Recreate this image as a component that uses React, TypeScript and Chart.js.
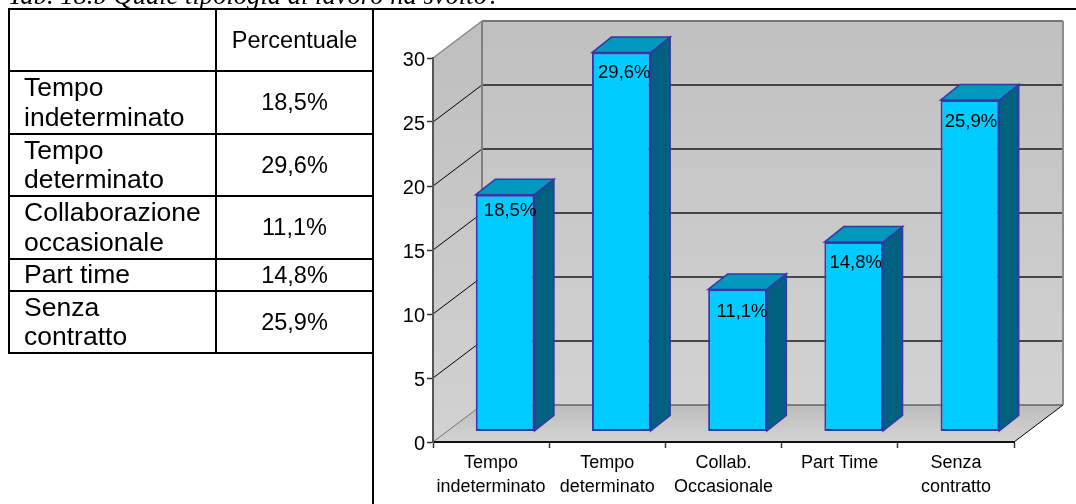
import React, { useEffect, useRef } from "react";
import { Chart, registerables } from "chart.js";

Chart.register(...registerables);

const caption = "Tab. 18.b Quale tipologia di lavoro ha svolto?";
const categories = [
  ["Tempo", "indeterminato"],
  ["Tempo", "determinato"],
  ["Collab.", "Occasionale"],
  ["Part Time"],
  ["Senza", "contratto"],
];
const values = [18.5, 29.6, 11.1, 14.8, 25.9];
const tableHeader = "Percentuale";
const tableLabels = [
  ["Tempo", "indeterminato"],
  ["Tempo", "determinato"],
  ["Collaborazione", "occasionale"],
  ["Part time"],
  ["Senza", "contratto"],
];
const tableValues = ["18,5%", "29,6%", "11,1%", "14,8%", "25,9%"];

const SANS = "'Liberation Sans', Arial, sans-serif";
const WALL_DX = 49;
const WALL_DY = -37;
const BAR_SHIFT_X = 14;
const BAR_SHIFT_Y = -10.5;
const BAR_DX = 19.5;
const BAR_DY = -15.5;
const LABEL_NUDGE_X = [5, 3, 4.5, 2, 1];
const LABEL_NUDGE_Y = [16, 20, 22, 21, 22];

function poly(ctx: CanvasRenderingContext2D, pts: number[][], fill: any, stroke?: string, lw = 1) {
  ctx.beginPath();
  pts.forEach((p, i) => (i ? ctx.lineTo(p[0], p[1]) : ctx.moveTo(p[0], p[1])));
  ctx.closePath();
  if (fill) {
    ctx.fillStyle = fill;
    ctx.fill();
  }
  if (stroke) {
    ctx.strokeStyle = stroke;
    ctx.lineWidth = lw;
    ctx.stroke();
  }
}

function line(ctx: CanvasRenderingContext2D, x1: number, y1: number, x2: number, y2: number, color: string, lw: number) {
  ctx.beginPath();
  ctx.moveTo(x1, y1);
  ctx.lineTo(x2, y2);
  ctx.strokeStyle = color;
  ctx.lineWidth = lw;
  ctx.stroke();
}

const box3d = {
  id: "box3d",
  beforeDraw(chart: any) {
    const { ctx, chartArea: a, scales } = chart;
    const { left: l, right: r, top: t, bottom: b } = a;
    const dx = WALL_DX;
    const dy = WALL_DY;
    ctx.save();
    const wall = ctx.createLinearGradient(0, t + dy, 0, b + dy);
    wall.addColorStop(0, "#c0c0c0");
    wall.addColorStop(1, "#d2d2d2");
    poly(ctx, [[l + dx, t + dy], [r + dx, t + dy], [r + dx, b + dy], [l + dx, b + dy]], wall);
    const side = ctx.createLinearGradient(0, t, 0, b);
    side.addColorStop(0, "#c0c0c0");
    side.addColorStop(1, "#d2d2d2");
    poly(ctx, [[l, t], [l + dx, t + dy], [l + dx, b + dy], [l, b]], side);
    const floor = ctx.createLinearGradient(0, b + dy, 0, b);
    floor.addColorStop(0, "#bcbcbc");
    floor.addColorStop(1, "#d4d4d4");
    poly(ctx, [[l, b], [l + dx, b + dy], [r + dx, b + dy], [r, b]], floor);
    scales.y.ticks.forEach((tk: any) => {
      const y = scales.y.getPixelForValue(tk.value);
      const grey = tk.value === 0 || tk.value === 30;
      if (!grey) {
        line(ctx, l, y, l + dx, y + dy, "#000000", 1);
        line(ctx, l + dx, y + dy, r + dx, y + dy, "#1a1a1a", 1.5);
      }
    });
    line(ctx, l, b, l + dx, b + dy, "#707070", 1);
    line(ctx, l + dx, b + dy, r + dx, b + dy, "#666666", 1.5);
    line(ctx, l, t, l + dx, t + dy, "#808080", 1.2);
    line(ctx, l + dx, t + dy, r + dx, t + dy, "#777777", 2);
    line(ctx, l + dx, t + dy, l + dx, b + dy, "#808080", 2);
    line(ctx, r + dx, t + dy, r + dx, b + dy, "#8c8c8c", 2);
    line(ctx, r, b, r + dx, b + dy, "#000000", 1);
    ctx.restore();
  },
  beforeDatasetDraw(chart: any, args: any) {
    const { ctx } = chart;
    ctx.save();
    ctx.translate(BAR_SHIFT_X, BAR_SHIFT_Y);
    const border = "#3a35a8";
    args.meta.data.forEach((el: any) => {
      const p = el.getProps(["x", "y", "base", "width"], true);
      const x0 = p.x - p.width / 2;
      const x1 = p.x + p.width / 2;
      poly(ctx, [[x1, p.y], [x1 + BAR_DX, p.y + BAR_DY], [x1 + BAR_DX, p.base + BAR_DY], [x1, p.base]], "#006080", border, 1.5);
      poly(ctx, [[x0, p.y], [x0 + BAR_DX, p.y + BAR_DY], [x1 + BAR_DX, p.y + BAR_DY], [x1, p.y]], "#0098bd", border, 1.5);
    });
  },
  afterDatasetDraw(chart: any) {
    chart.ctx.restore();
  },
  afterDatasetsDraw(chart: any) {
    const { ctx } = chart;
    const meta = chart.getDatasetMeta(0);
    ctx.save();
    ctx.font = `18.5px ${SANS}`;
    ctx.fillStyle = "#000";
    ctx.textAlign = "center";
    ctx.textBaseline = "middle";
    meta.data.forEach((el: any, i: number) => {
      const p = el.getProps(["x", "y"], true);
      const txt = values[i].toFixed(1).replace(".", ",") + "%";
      ctx.fillText(txt, p.x + BAR_SHIFT_X + LABEL_NUDGE_X[i], p.y + BAR_SHIFT_Y + LABEL_NUDGE_Y[i]);
    });
    ctx.restore();
  },
};

const rowHeights = [62, 63, 62, 63, 32, 62];
const ink = "#000";

function App() {
  const ref = useRef<HTMLCanvasElement | null>(null);
  useEffect(() => {
    if (!ref.current) return;
    const chart = new Chart(ref.current, {
      type: "bar",
      data: {
        labels: categories as any,
        datasets: [
          {
            data: values,
            backgroundColor: "#00ccff",
            borderColor: "#3a35a8",
            borderWidth: 2,
            borderSkipped: false,
            barPercentage: 0.505,
            categoryPercentage: 1,
            clip: false as any,
          },
        ],
      },
      options: {
        responsive: false,
        animation: false,
        layout: { padding: { top: 58, right: 62, bottom: 0, left: 0 } },
        plugins: { legend: { display: false }, tooltip: { enabled: false }, title: { display: false } },
        scales: {
          x: {
            afterFit: (s: any) => {
              s.height = 62;
            },
            border: { display: true, color: "#111", width: 2 },
            grid: { display: true, drawOnChartArea: false, drawTicks: true, tickLength: 6, tickColor: "#333", tickWidth: 1.5 },
            ticks: {
              color: "#000",
              font: { family: SANS, size: 18, lineHeight: 1.28 },
              padding: 4,
              maxRotation: 0,
              minRotation: 0,
              autoSkip: false,
            },
          },
          y: {
            min: 0,
            max: 30,
            afterFit: (s: any) => {
              s.width = 433;
            },
            border: { display: true, color: "#555", width: 2 },
            grid: { display: true, drawOnChartArea: false, drawTicks: true, tickLength: 6, tickColor: "#333", tickWidth: 1.5 },
            ticks: { stepSize: 5, color: "#000", font: { family: SANS, size: 20 }, padding: 2, labelOffset: 2 },
          },
        },
      },
      plugins: [box3d as any],
    });
    return () => chart.destroy();
  }, []);

  let y = 9;
  const tops = rowHeights.map((h) => {
    const t = y;
    y += h;
    return t;
  });

  const hline = (key: string, left: number, top: number, width: number) => (
    <div key={key} style={{ position: "absolute", left, top: top - 1, width, height: 2, background: ink }} />
  );
  const vline = (key: string, left: number, top: number, height: number) => (
    <div key={key} style={{ position: "absolute", left: left - 1, top, width: 2, height, background: ink }} />
  );
  const tableBottom = y;

  return (
    <div style={{ position: "fixed", left: 0, top: 0, width: 1076, height: 504, overflow: "hidden", background: "#fff" }}>
      <canvas ref={ref} width={1076} height={504} style={{ position: "absolute", left: 0, top: 0, display: "block" }} />
      <div
        style={{
          position: "absolute",
          left: 8,
          top: -20.5,
          whiteSpace: "nowrap",
          fontFamily: "'Liberation Serif', serif",
          fontStyle: "italic",
          fontSize: 26.6,
          lineHeight: "30px",
          color: "#000",
        }}
      >
        {caption}
      </div>
      {hline("top", 8, 9, 1068)}
      {vline("v0", 9, 9, tableBottom - 9)}
      {vline("v1", 216, 9, tableBottom - 9)}
      {vline("v2", 373, 9, 495)}
      {tops.slice(1).map((t, i) => hline("h" + i, 8, t, 365))}
      {hline("hb", 8, tableBottom, 365)}
      <div
        style={{
          position: "absolute",
          left: 216,
          top: tops[0],
          width: 157,
          height: rowHeights[0],
          display: "flex",
          alignItems: "center",
          justifyContent: "center",
          fontFamily: SANS,
          fontSize: 23.5,
          color: "#000",
        }}
      >
        {tableHeader}
      </div>
      {tableLabels.map((lines, i) => (
        <React.Fragment key={i}>
          <div
            style={{
              position: "absolute",
              left: 24,
              top: tops[i + 1],
              height: rowHeights[i + 1],
              display: "flex",
              flexDirection: "column",
              justifyContent: "center",
              fontFamily: SANS,
              fontSize: 26.5,
              lineHeight: "29.5px",
              color: "#000",
              whiteSpace: "nowrap",
            }}
          >
            {lines.map((l) => (
              <div key={l}>{l}</div>
            ))}
          </div>
          <div
            style={{
              position: "absolute",
              left: 216,
              top: tops[i + 1],
              width: 157,
              height: rowHeights[i + 1],
              display: "flex",
              alignItems: "center",
              justifyContent: "center",
              fontFamily: SANS,
              fontSize: 23.5,
              color: "#000",
            }}
          >
            {tableValues[i]}
          </div>
        </React.Fragment>
      ))}
    </div>
  );
}

export default App;
